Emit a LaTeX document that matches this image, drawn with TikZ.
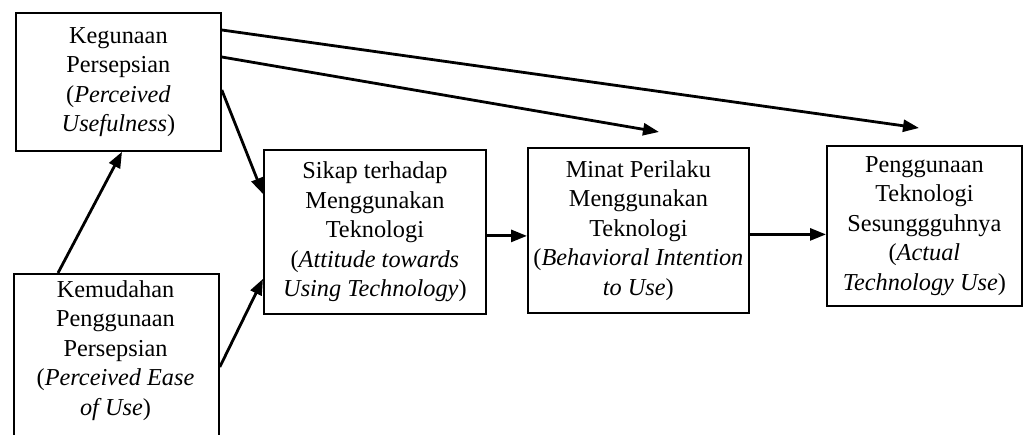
\documentclass[tikz,border=0pt]{standalone}
\usepackage{fontspec}
\setmainfont{Liberation Serif}
\usetikzlibrary{arrows.meta}
\begin{document}
\begin{tikzpicture}[x=1pt,y=-1pt,
  box/.style={draw=black, line width=1.8pt, anchor=north west, align=center, inner sep=0pt,
    font=\fontsize{24.3}{29.5}\selectfont},
  txt/.style={align=center, inner sep=0pt, font=\fontsize{24.3}{29.5}\selectfont},
  arr/.style={line width=2.8pt, -{Triangle[length=16pt,width=12pt]}}]
\useasboundingbox (0,0) rectangle (1024,435);
\clip (0,0) rectangle (1024,435);
\node[box, minimum width=205pt, minimum height=138pt] (pu) at (15,12)
  {Kegunaan\\Persepsian\\(\textit{Perceived}\\\textit{Usefulness})};
\node[box, minimum width=205pt, minimum height=185pt] (peou) at (13,273) {};
\node[txt, anchor=north] (peoutext) at (115.5,280)
  {Kemudahan\\Penggunaan\\Persepsian\\(\textit{Perceived Ease}\\\textit{of Use})};
\node[box, minimum width=222pt, minimum height=164pt] (att) at (263,149)
  {Sikap terhadap\\Menggunakan\\Teknologi\\(\textit{Attitude towards}\\\textit{Using Technology})};
\node[box, minimum width=221pt, minimum height=165pt] (bi) at (527,147)
  {Minat Perilaku\\Menggunakan\\Teknologi\\(\textit{Behavioral Intention}\\\textit{to Use})};
\node[box, minimum width=195pt, minimum height=160pt] (actual) at (826,145)
  {Penggunaan\\Teknologi\\Sesunggguhnya\\(\textit{Actual}\\\textit{Technology Use})};
% connectors
\draw[arr] ([xshift=45pt]peou.north west) -- ([xshift=107pt]pu.south west);
\draw[arr] ([yshift=-78pt]pu.north east) -- ([yshift=-45pt]att.north west);
\draw[arr] ([yshift=-94pt]peou.north east) -- ([yshift=36pt]att.south west);
\draw[arr] ([yshift=-18pt]pu.north east) -- ([xshift=93pt,yshift=17pt]actual.north west);
\draw[arr] ([yshift=-45pt]pu.north east) -- ([xshift=132pt,yshift=15pt]bi.north west);
\draw[arr] ([yshift=-4pt]att.east) -- ([yshift=-4pt]att.east -| bi.west);
\draw[arr] ([yshift=-4pt]bi.east) -- ([yshift=-4pt]bi.east -| actual.west);
\end{tikzpicture}
\end{document}
